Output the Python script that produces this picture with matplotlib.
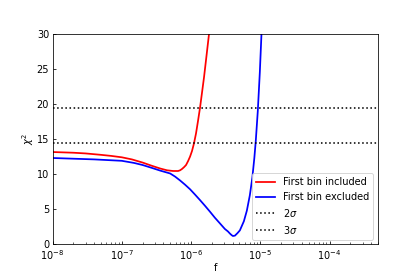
import matplotlib
matplotlib.use("Agg")
import matplotlib.pyplot as plt

# values
f_incl = [1.0e-8, 2.0e-8, 3.0e-8, 5.0e-8, 7.0e-8, 1.0e-7, 1.4e-7, 2.0e-7,
          2.7e-7, 3.6e-7, 4.5e-7, 5.5e-7, 6.5e-7, 6.95e-7, 7.43e-7, 7.93e-7,
          8.47e-7, 9.05e-7, 9.68e-7, 1.033e-6, 1.104e-6, 1.18e-6, 1.262e-6, 1.35e-6,
          1.44e-6, 1.54e-6, 1.67e-6, 1.82e-6]
chi_incl = [13.15, 13.05, 12.95, 12.75, 12.6, 12.4, 12.1, 11.65,
            11.2, 10.8, 10.55, 10.45, 10.45, 10.55, 10.75, 11.0,
            11.3, 11.85, 12.5, 13.3, 14.4, 15.8, 17.6, 19.5,
            21.6, 23.8, 26.8, 30.0]

f_excl = [1.0e-8, 2.0e-8, 4.0e-8, 1.0e-7, 1.5e-7, 2.0e-7, 2.7e-7, 3.6e-7,
          4.99e-7, 5.89e-7, 6.95e-7, 8.20e-7, 9.68e-7, 1.14e-6, 1.35e-6, 1.59e-6,
          1.88e-6, 2.21e-6, 2.61e-6, 3.08e-6, 3.41e-6, 3.64e-6, 3.85e-6, 4.02e-6,
          4.30e-6, 4.67e-6, 5.07e-6, 5.79e-6, 6.39e-6, 7.06e-6, 7.67e-6, 8.20e-6,
          8.61e-6, 9.20e-6, 9.84e-6, 1.04e-5]
chi_excl = [12.3, 12.2, 12.1, 11.9, 11.6, 11.3, 10.9, 10.5,
            10.1, 9.65, 9.1, 8.5, 7.85, 7.1, 6.3, 5.5,
            4.65, 3.8, 3.0, 2.2, 1.85, 1.55, 1.33, 1.2,
            1.25, 1.6, 2.0, 3.3, 4.8, 7.0, 9.5, 12.3,
            14.8, 19.0, 24.5, 30.0]

sigma_labels = [r'$2\sigma$', r'$3\sigma$']
sigma_levels = [14.45, 19.45]

fig, ax = plt.subplots(figsize=(6, 4), dpi=70)
fig.subplots_adjust(bottom=0.127)

ax.plot(f_incl, chi_incl, color='red', lw=1.8, label='First bin included')
ax.plot(f_excl, chi_excl, color='blue', lw=1.8, label='First bin excluded')
for lab, lev in zip(sigma_labels, sigma_levels):
    ax.axhline(lev, color='black', linestyle=':', lw=1.6, label=lab)

ax.set_xscale('log')
ax.set_xlim(1e-8, 5e-4)
ax.set_ylim(0, 30)
ax.tick_params(which='both', direction='in')
ax.set_xlabel('f', labelpad=1)
ax.set_ylabel(r'$\chi^2$', labelpad=1)
ax.legend(loc='lower right')

fig.savefig('out.png')
